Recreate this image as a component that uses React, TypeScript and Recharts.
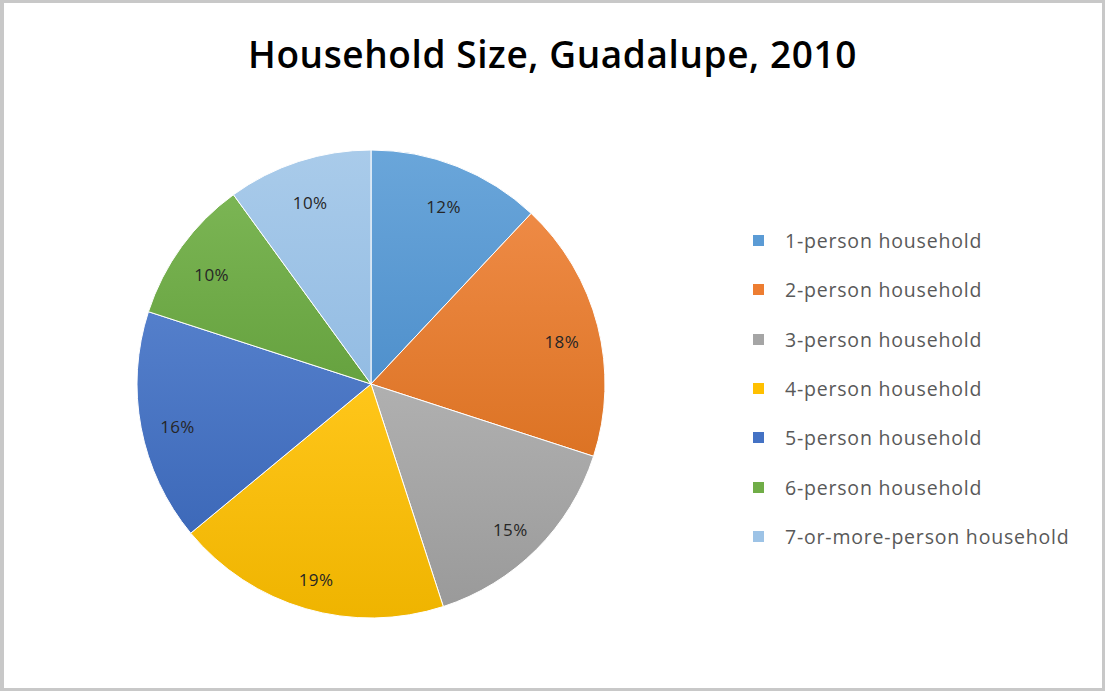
import React from "react";
import { PieChart, Pie, Cell, Legend } from "recharts";

const title = "Household Size, Guadalupe, 2010";
const categories = [
  "1-person household",
  "2-person household",
  "3-person household",
  "4-person household",
  "5-person household",
  "6-person household",
  "7-or-more-person household",
];
const shares = [12, 18, 15, 19, 16, 10, 10];
const baseColors = ["#5b9bd5", "#ed7d31", "#a5a5a5", "#ffc000", "#4472c4", "#70ad47", "#9dc3e6"];
const topColors = ["#6aa6da", "#ee8a45", "#b0b0b0", "#ffc61a", "#547fcb", "#7bb554", "#a9cbea"];
const bottomColors = ["#4f90cc", "#dc7324", "#9a9a9a", "#efb400", "#3d69b9", "#66a23f", "#93bce3"];

const data = categories.map((name, i) => ({ name, value: shares[i] }));

const RAD = Math.PI / 180;

const renderLabel = (props: any) => {
  const { cx, cy, midAngle, value } = props;
  const r = 197;
  const x = cx + r * Math.cos(-midAngle * RAD);
  const y = cy + r * Math.sin(-midAngle * RAD) + 6;
  return (
    <text
      x={x}
      y={y}
      textAnchor="middle"
      dominantBaseline="central"
      fill="#262626"
      style={{ fontFamily: "'Open Sans', sans-serif", fontSize: 17, letterSpacing: 0.4 }}
    >
      {`${value}%`}
    </text>
  );
};

const renderLegend = () => (
  <div style={{ fontFamily: "'Open Sans', sans-serif" }}>
    {categories.map((c, i) => (
      <div
        key={c}
        style={{ display: "flex", alignItems: "center", height: 49.3 }}
      >
        <div
          style={{
            width: 11,
            height: 11,
            background: baseColors[i],
            marginRight: 21,
          }}
        />
        <span style={{ fontSize: 19.5, color: "#595959", whiteSpace: "nowrap", letterSpacing: 0.8 }}>{c}</span>
      </div>
    ))}
  </div>
);

export default function App() {
  return (
    <div
      style={{
        position: "absolute",
        left: 0,
        top: 0,
        width: 1105,
        height: 691,
        background: "#ffffff",
        overflow: "hidden",
      }}
    >
      <PieChart width={1105} height={691}>
        <defs>
          {baseColors.map((c, i) => (
            <linearGradient key={i} id={`g${i}`} x1="0" y1="0" x2="0" y2="1">
              <stop offset="0%" stopColor={topColors[i]} />
              <stop offset="100%" stopColor={bottomColors[i]} />
            </linearGradient>
          ))}
        </defs>
        <Pie
          data={data}
          dataKey="value"
          nameKey="name"
          cx={366}
          cy={379}
          outerRadius={234}
          startAngle={90}
          endAngle={-270}
          stroke="#ffffff"
          strokeWidth={1}
          label={renderLabel}
          labelLine={false}
          isAnimationActive={false}
        >
          {data.map((d, i) => (
            <Cell key={d.name} fill={`url(#g${i})`} />
          ))}
        </Pie>
        <Legend
          content={renderLegend}
          wrapperStyle={{ position: "absolute", left: 753, top: 216, width: 340 }}
        />
      </PieChart>
      <div
        style={{
          position: "absolute",
          left: 0,
          top: 28,
          width: 1105,
          textAlign: "center",
          fontFamily: "'Open Sans', sans-serif",
          fontWeight: 600,
          fontSize: 37,
          color: "#000000",
          letterSpacing: 0.6,
        }}
      >
        {title}
      </div>
      <div
        style={{
          position: "absolute",
          left: 0,
          top: 0,
          width: 1105,
          height: 691,
          boxSizing: "border-box",
          borderTop: "3px solid #c8c8c8",
          borderLeft: "4px solid #c8c8c8",
          borderRight: "3px solid #c8c8c8",
          borderBottom: "3px solid #c8c8c8",
          pointerEvents: "none",
        }}
      />
    </div>
  );
}
